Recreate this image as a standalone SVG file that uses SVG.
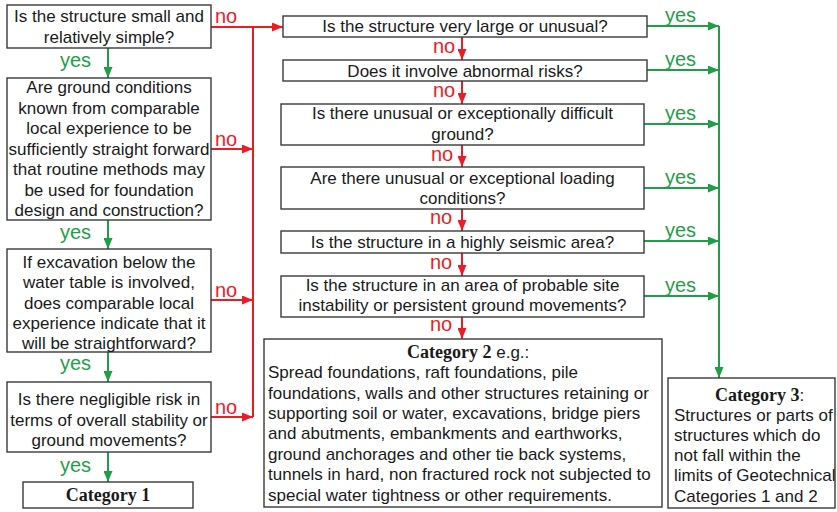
<svg xmlns="http://www.w3.org/2000/svg" width="837" height="512" viewBox="0 0 837 512">
<style>
.box{fill:#fff;stroke:#3a3a3a;stroke-width:1.4}
.t{font-family:"Liberation Sans",Arial,sans-serif;font-size:17px;fill:#1a1a1a}
.c{text-anchor:middle}
.h{font-family:"Liberation Serif","Times New Roman",serif;font-weight:bold;font-size:18px;fill:#1a1a1a}
.r{stroke:#ed1c24;stroke-width:2;fill:none}
.g{stroke:#1f9e48;stroke-width:2;fill:none}
.rl{font-family:"Liberation Sans",Arial,sans-serif;font-size:20px;fill:#ed1c24}
.gl{font-family:"Liberation Sans",Arial,sans-serif;font-size:20px;fill:#1f9e48}
</style>
<defs>
<marker id="ar" markerWidth="11" markerHeight="9" refX="11" refY="4.5" orient="auto" markerUnits="userSpaceOnUse"><path d="M0,0 L11,4.5 L0,9 z" fill="#ed1c24"/></marker>
<marker id="ag" markerWidth="11" markerHeight="9" refX="11" refY="4.5" orient="auto" markerUnits="userSpaceOnUse"><path d="M0,0 L11,4.5 L0,9 z" fill="#1f9e48"/></marker>
</defs>

<g id="connectors">
<!-- left column yes -->
<line class="g" x1="108" y1="48" x2="108" y2="78" marker-end="url(#ag)"/>
<line class="g" x1="108" y1="220" x2="108" y2="249" marker-end="url(#ag)"/>
<line class="g" x1="108" y1="352" x2="108" y2="382" marker-end="url(#ag)"/>
<line class="g" x1="108" y1="452" x2="108" y2="482" marker-end="url(#ag)"/>
<text class="gl" x="60" y="67">yes</text>
<text class="gl" x="60" y="239">yes</text>
<text class="gl" x="60" y="370">yes</text>
<text class="gl" x="60" y="472">yes</text>
<!-- left column no -->
<line class="r" x1="211" y1="27" x2="283" y2="27" marker-end="url(#ar)"/>
<line class="r" x1="253" y1="27" x2="253" y2="417"/>
<line class="r" x1="211" y1="149" x2="253" y2="149" marker-end="url(#ar)"/>
<line class="r" x1="211" y1="300" x2="253" y2="300" marker-end="url(#ar)"/>
<line class="r" x1="211" y1="417" x2="253" y2="417" marker-end="url(#ar)"/>
<text class="rl" x="215" y="23">no</text>
<text class="rl" x="215" y="146">no</text>
<text class="rl" x="215" y="297">no</text>
<text class="rl" x="215" y="414">no</text>
<!-- middle column no -->
<line class="r" x1="462" y1="37" x2="462" y2="60" marker-end="url(#ar)"/>
<line class="r" x1="462" y1="81" x2="462" y2="104" marker-end="url(#ar)"/>
<line class="r" x1="462" y1="145" x2="462" y2="167" marker-end="url(#ar)"/>
<line class="r" x1="462" y1="209" x2="462" y2="231" marker-end="url(#ar)"/>
<line class="r" x1="462" y1="253" x2="462" y2="276" marker-end="url(#ar)"/>
<line class="r" x1="462" y1="317" x2="462" y2="339" marker-end="url(#ar)"/>
<text class="rl" x="433" y="53">no</text>
<text class="rl" x="433" y="97">no</text>
<text class="rl" x="431" y="161">no</text>
<text class="rl" x="430" y="224">no</text>
<text class="rl" x="430" y="269">no</text>
<text class="rl" x="430" y="331">no</text>
<!-- right yes -->
<line class="g" x1="647" y1="26" x2="719" y2="26" marker-end="url(#ag)"/>
<line class="g" x1="647" y1="70" x2="719" y2="70" marker-end="url(#ag)"/>
<line class="g" x1="644" y1="124" x2="719" y2="124" marker-end="url(#ag)"/>
<line class="g" x1="644" y1="188" x2="719" y2="188" marker-end="url(#ag)"/>
<line class="g" x1="644" y1="241" x2="719" y2="241" marker-end="url(#ag)"/>
<line class="g" x1="644" y1="296" x2="719" y2="296" marker-end="url(#ag)"/>
<line class="g" x1="719" y1="26" x2="719" y2="378" marker-end="url(#ag)"/>
<text class="gl" x="665" y="22">yes</text>
<text class="gl" x="665" y="66">yes</text>
<text class="gl" x="665" y="120">yes</text>
<text class="gl" x="665" y="184">yes</text>
<text class="gl" x="665" y="237">yes</text>
<text class="gl" x="665" y="292">yes</text>
</g>

<g id="q1">
<rect class="box" x="7" y="5" width="204" height="43"/>
<text class="t c" x="109" y="21.5">Is the structure small and</text>
<text class="t c" x="109" y="42.5">relatively simple?</text>
</g>
<g id="q2">
<rect class="box" x="7" y="78" width="204" height="142"/>
<text class="t c" x="109" y="93">Are ground conditions</text>
<text class="t c" x="109" y="113.5">known from comparable</text>
<text class="t c" x="109" y="134">local experience to be</text>
<text class="t c" x="109" y="154.5">sufficiently straight forward</text>
<text class="t c" x="109" y="175">that routine methods may</text>
<text class="t c" x="109" y="195.5">be used for foundation</text>
<text class="t c" x="109" y="216">design and construction?</text>
</g>
<g id="q3">
<rect class="box" x="7" y="249" width="204" height="103"/>
<text class="t c" x="109" y="268">If excavation below the</text>
<text class="t c" x="109" y="288">water table is involved,</text>
<text class="t c" x="109" y="308.5">does comparable local</text>
<text class="t c" x="109" y="328.5">experience indicate that it</text>
<text class="t c" x="109" y="348.5">will be straightforward?</text>
</g>
<g id="q4">
<rect class="box" x="7" y="382" width="204" height="70"/>
<text class="t c" x="109" y="405">Is there negligible risk in</text>
<text class="t c" x="109" y="426">terms of overall stability or</text>
<text class="t c" x="109" y="446">ground movements?</text>
</g>
<g id="cat1">
<rect class="box" x="23" y="482" width="170" height="26"/>
<text class="h c" x="108" y="501">Category 1</text>
</g>

<g id="m1">
<rect class="box" x="283" y="16" width="364" height="21"/>
<text class="t c" x="465" y="32">Is the structure very large or unusual?</text>
</g>
<g id="m2">
<rect class="box" x="283" y="60" width="364" height="21"/>
<text class="t c" x="465" y="77">Does it involve abnormal risks?</text>
</g>
<g id="m3">
<rect class="box" x="281" y="104" width="363" height="41"/>
<text class="t c" x="462.5" y="119">Is there unusual or exceptionally difficult</text>
<text class="t c" x="462.5" y="140">ground?</text>
</g>
<g id="m4">
<rect class="box" x="281" y="167" width="363" height="42"/>
<text class="t c" x="462.5" y="184">Are there unusual or exceptional loading</text>
<text class="t c" x="462.5" y="204">conditions?</text>
</g>
<g id="m5">
<rect class="box" x="281" y="231" width="363" height="22"/>
<text class="t c" x="462.5" y="248">Is the structure in a highly seismic area?</text>
</g>
<g id="m6">
<rect class="box" x="281" y="276" width="363" height="41"/>
<text class="t c" x="462.5" y="291">Is the structure in an area of probable site</text>
<text class="t c" x="462.5" y="311">instability or persistent ground movements?</text>
</g>
<g id="cat2">
<rect class="box" x="264" y="339" width="398" height="168"/>
<text x="407" y="358"><tspan class="h">Category 2</tspan><tspan class="t"> e.g.:</tspan></text>
<text class="t" x="268" y="378">Spread foundations, raft foundations, pile</text>
<text class="t" x="268" y="398.5">foundations, walls and other structures retaining or</text>
<text class="t" x="268" y="418.5">supporting soil or water, excavations, bridge piers</text>
<text class="t" x="268" y="439">and abutments, embankments and earthworks,</text>
<text class="t" x="268" y="459.5">ground anchorages and other tie back systems,</text>
<text class="t" x="268" y="480">tunnels in hard, non fractured rock not subjected to</text>
<text class="t" x="268" y="500.5">special water tightness or other requirements.</text>
</g>
<g id="cat3">
<rect class="box" x="668" y="378" width="167" height="130"/>
<text x="715" y="401"><tspan class="h">Category 3</tspan><tspan class="t">:</tspan></text>
<text class="t" x="674" y="421">Structures or parts of</text>
<text class="t" x="674" y="441">structures which do</text>
<text class="t" x="674" y="461">not fall within the</text>
<text class="t" x="674" y="481">limits of Geotechnical</text>
<text class="t" x="674" y="502">Categories 1 and 2</text>
</g>
</svg>
